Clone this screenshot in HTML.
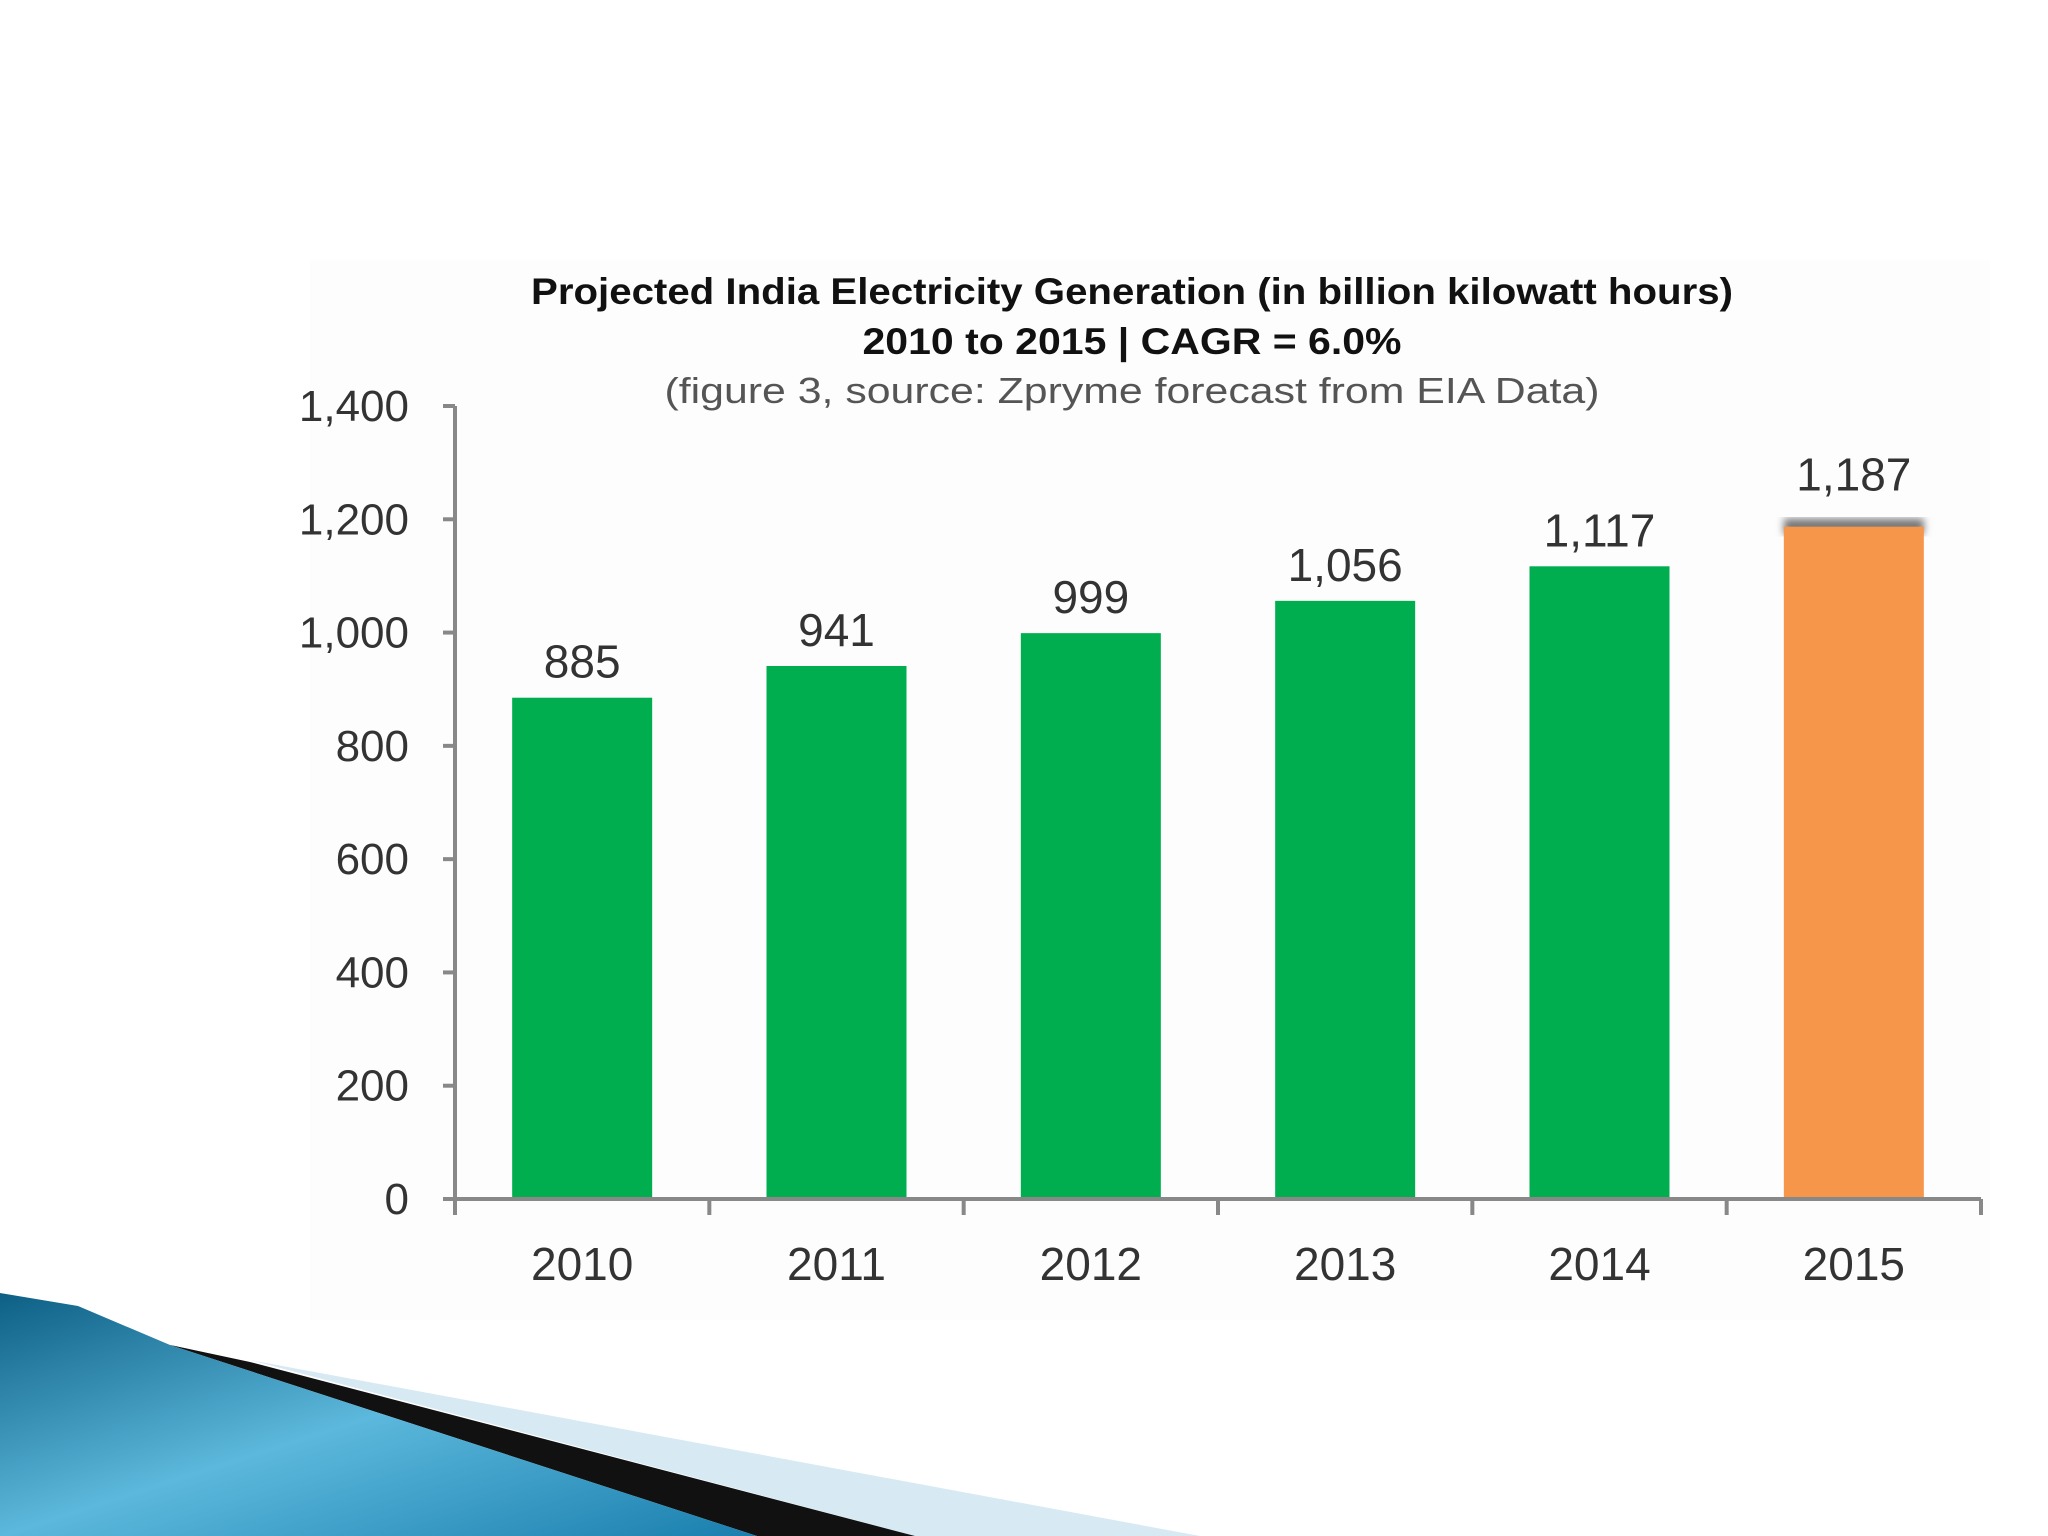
<!DOCTYPE html>
<html><head><meta charset="utf-8"><style>
html,body{margin:0;padding:0;background:#fff;}
svg{display:block;font-family:"Liberation Sans",sans-serif;}
</style></head><body>
<svg id="chart" width="2048" height="1536" viewBox="0 0 2048 1536">
<defs>
<linearGradient id="blueg" x1="0" y1="0" x2="1" y2="1">
<stop offset="0" stop-color="#0d5f85"/><stop offset="0.5" stop-color="#5cb8dc"/><stop offset="1" stop-color="#1a7fae"/>
</linearGradient>
<filter id="blur" x="-10%" y="-10%" width="120%" height="120%"><feGaussianBlur stdDeviation="4"/></filter>
</defs>
<rect x="310" y="260" width="1680" height="1060" fill="#fdfdfd"/>
<g>
<polygon points="250,1360 1200,1536 915,1536" fill="#d7e9f3"/>
<polygon points="100,1330 250,1362 915,1536 757,1536 170,1345" fill="#111"/>
<polygon points="0,1293 78,1306 170,1345 757,1536 0,1536" fill="url(#blueg)"/>
</g>
<text x="1132" y="304" text-anchor="middle" font-size="37" font-weight="bold" fill="#111" textLength="1202" lengthAdjust="spacingAndGlyphs">Projected India Electricity Generation (in billion kilowatt hours)</text>
<text x="1132" y="354" text-anchor="middle" font-size="37" font-weight="bold" fill="#111" textLength="539" lengthAdjust="spacingAndGlyphs">2010 to 2015 | CAGR = 6.0%</text>
<text x="1132" y="403" text-anchor="middle" font-size="36" fill="#555" textLength="935" lengthAdjust="spacingAndGlyphs">(figure 3, source: Zpryme forecast from EIA Data)</text>
<g id="yaxis"></g>
<g id="xaxis"></g>
<g id="bars"></g>
</svg>
<script>
const categories = ["2010","2011","2012","2013","2014","2015"];
const values = [885, 941, 999, 1056, 1117, 1187];
const valueLabels = ["885","941","999","1,056","1,117","1,187"];
const yTicks = [0,200,400,600,800,1000,1200,1400];
const yTickLabels = ["0","200","400","600","800","1,000","1,200","1,400"];
const barColors = ["#00ae50","#00ae50","#00ae50","#00ae50","#00ae50","#f5964a"];

const NS = "http://www.w3.org/2000/svg";
const x0 = 455, x1 = 1981, y0 = 1199, yTop = 406, yMax = 1400;
const band = (x1 - x0) / categories.length;
const yScale = v => y0 - (v / yMax) * (y0 - yTop);
const xCenter = i => x0 + band * (i + 0.5);
function mk(tag, attrs, parent){const e=document.createElementNS(NS,tag);for(const k in attrs)e.setAttribute(k,attrs[k]);parent.appendChild(e);return e;}

const ya = document.getElementById("yaxis");
const xa = document.getElementById("xaxis");
const bars = document.getElementById("bars");

let l = mk("line",{x1:x0,y1:yTop,x2:x0,y2:y0+12,stroke:"#888","stroke-width":4},ya);


yTicks.forEach((v,i)=>{
  const y = yScale(v);
  const t = mk("line",{x1:x0-12,y1:y,x2:x0,y2:y,stroke:"#888","stroke-width":4},ya);
  
  
  const tx = mk("text",{x:409,y:y+15,"text-anchor":"end","font-size":44,fill:"#333"},ya);
  tx.textContent = yTickLabels[i];
  
  
});

l = mk("line",{x1:x0,y1:y0,x2:x1,y2:y0,stroke:"#888","stroke-width":4},xa);


for(let i=0;i<=categories.length;i++){
  const x = x0 + band*i;
  const t = mk("line",{x1:x,y1:y0,x2:x,y2:y0+16,stroke:"#888","stroke-width":4},xa);
  
  
}
categories.forEach((c,i)=>{
  const tx = mk("text",{x:xCenter(i),y:1280,"text-anchor":"middle","font-size":46,fill:"#333"},xa);
  tx.textContent = c;
  
  
});

const bw = 140;
values.forEach((v,i)=>{
  const y = yScale(v);
  const last = i===values.length-1;
  if(last){
    const s = mk("rect",{x:xCenter(i)-bw/2,y:y-8,width:bw,height:16,fill:"#777",filter:"url(#blur)"},bars);
    
    
  }
  const r = mk("rect",{x:xCenter(i)-bw/2,y:y,width:bw,height:y0-y-2,fill:barColors[i]},bars);
  
  
  const tx = mk("text",{x:xCenter(i),y:y-(last?36:20),"text-anchor":"middle","font-size":46,fill:"#333"},bars);
  tx.textContent = valueLabels[i];
  
  
});
</script>
</body></html>
